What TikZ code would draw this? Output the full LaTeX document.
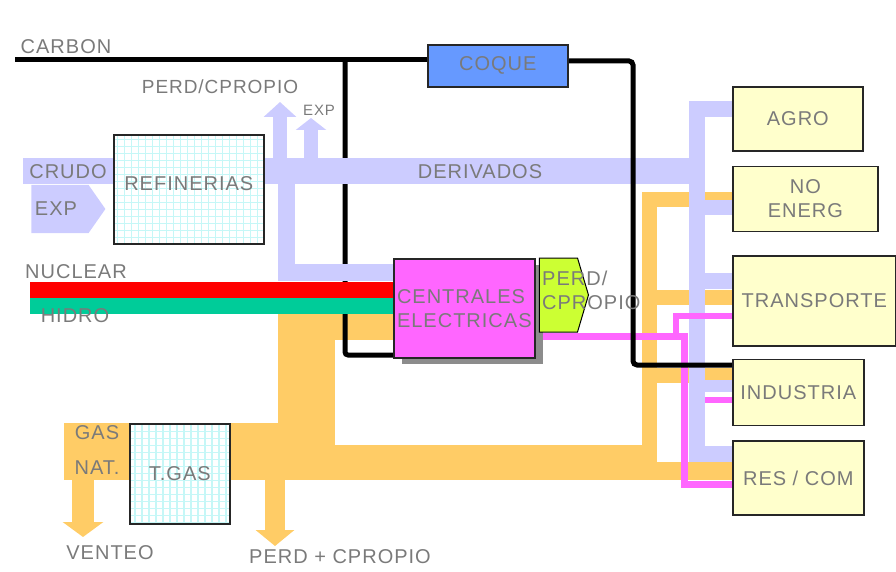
\documentclass[tikz,border=0pt]{standalone}
\usepackage{fontspec}
\setmainfont{Liberation Sans}[LetterSpace=5]
\usetikzlibrary{arrows.meta,positioning,shapes.symbols,shadows,backgrounds}
\definecolor{lila}{HTML}{CCCCFF}
\definecolor{gasn}{HTML}{FFCC66}
\definecolor{rosa}{HTML}{FF66FF}
\definecolor{azul}{HTML}{6699FF}
\definecolor{lima}{HTML}{CCFF33}
\definecolor{crema}{HTML}{FFFFCC}
\definecolor{rojo}{HTML}{FF0000}
\definecolor{verde}{HTML}{00CC99}
\definecolor{gris}{HTML}{7A7A7A}
\definecolor{celeste}{HTML}{C6F7F7}

\begin{document}
\begin{tikzpicture}[x=1pt,y=-1pt,font=\fontsize{20}{24}\selectfont,
every node/.style={text=gris,inner sep=0},
box/.style={draw=black!85,line width=1.6,align=center},
sector/.style={box,fill=crema,anchor=north west},
grid box/.style={box,fill=white,anchor=north west,path picture={\draw[celeste,line width=1.4](path picture bounding box.south west) grid[step=7pt](path picture bounding box.north east);}},
lila band/.style={draw=lila,line width=#1},
gas band/.style={draw=gasn,line width=#1}]
\useasboundingbox (0,0) rectangle (896,572);
\coordinate (crudo) at (23,171);
\coordinate (cj) at (345,60);
\coordinate (gasin) at (64,451.5);
\node[grid box,minimum width=150,minimum height=109] (refin) at (113,134) {\raisebox{12pt}{REFINERIAS}};
\node[grid box,minimum size=100] (tgas) at (129,423) {T.GAS};
\node[box,fill=azul,minimum width=140,minimum height=42,anchor=north west] (coque) at (427,44) {COQUE};
\node[box,fill=rosa,minimum width=141,minimum height=99,anchor=north west,align=left,
  drop shadow={shadow xshift=8pt,shadow yshift=-6pt,fill=black!45,opacity=1}] (centr) at (393,258) {CENTRALES\\ELECTRICAS};
\node[signal,signal to=east,signal pointer angle=147,fill=lima,draw=black,line width=1,minimum width=49,minimum height=74] (perdce) at (558.5,295) {};
\node[anchor=west,align=left] (perdcetxt) at (542,290) {PERD/\\CPROPIO};
\node[signal,signal to=east,signal pointer angle=110,fill=lila,minimum width=74,minimum height=48] (expc) at (60,209) {\hspace*{-8pt}EXP};
\node[sector,minimum width=130,minimum height=64] (agro) at (732,86) {\raisebox{-7pt}{AGRO}};
\node[sector,minimum width=145,minimum height=65,below=14pt of agro.south west,anchor=north west] (noen) {NO\\ENERG};
\node[sector,minimum width=163,minimum height=90,below=23pt of noen.south west,anchor=north west] (transp) {TRANSPORTE};
\node[sector,minimum width=131,minimum height=66,below=12pt of transp.south west,anchor=north west] (indus) {INDUSTRIA};
\node[sector,minimum width=131,minimum height=74,below=14pt of indus.south west,anchor=north west] (rescom) {RES / COM};
\node (carbontxt) at (66,47) {CARBON};
\node[font=\fontsize{19}{22}\selectfont] (perdtop) at (220,87) {PERD/CPROPIO};
\node[font=\fontsize{15}{18}\selectfont] (exptop) at (319,110) {EXP};
\node (crudotxt) at (68,172) {CRUDO};
\node (dertxt) at (480,172) {DERIVADOS};
\node (nuctxt) at (76,272) {NUCLEAR};
\node (hidtxt) at (75,316) {HIDRO};
\node (gastxt) at (97,433) {GAS};
\node (nattxt) at (97,468) {NAT.};
\node (venttxt) at (110,553) {VENTEO};
\node (perdbot) at (340,557) {PERD + CPROPIO};
\begin{scope}[on background layer]
\draw[gas band=57] (gasin) -- (tgas.west |- gasin);
\draw[gas band=57] (tgas.east |- gasin) -- (335,451.5);
\draw[gas band=57] (306.5,480) -- (306.5,314);
\draw[gas band=26] (278,327) -- (centr.west |- 0,327);
\draw[gas band=35] (335,462.5) -- (657,462.5);
\draw[gas band=18] (649.5,471) -- (rescom.west |- 0,471);
\draw[gas band=15] (noen.west |- 0,199) -| (649.5,480);
\draw[gas band=15] (649.5,297.5) -- (transp.west |- 0,297.5);
\draw[gas band=15] (649.5,375.5) -- (indus.west |- 0,375.5);
\draw[gas band=22,-{Triangle[length=15pt,width=40pt]}] (83,478) -- (83,537);
\draw[gas band=20,-{Triangle[length=16pt,width=38pt]}] (275,478) -- (275,546);
\draw[black,line width=5,rounded corners=3] (cj) -- (345,355) -- (centr.west |- 0,355);
\draw[lila band=26] (crudo) -- (refin.west |- crudo);
\draw[lila band=26] (refin.east |- crudo) -- (697,171);
\draw[lila band=16] (agro.west |- 0,109) -| (697,454) -- (rescom.west |- 0,454);
\draw[lila band=15] (697,207.5) -- (noen.west |- 0,207.5);
\draw[lila band=16] (697,281) -- (transp.west |- 0,281);
\draw[lila band=12] (697,386) -- (indus.west |- 0,386);
\draw[lila band=17] (286,171) |- (centr.west |- 0,272.5);
\draw[lila band=14,-{Triangle[length=15pt,width=32pt]}] (280,171) -- (280,102);
\draw[lila band=14,-{Triangle[length=12pt,width=30pt]}] (311,171) -- (311,118);
\draw[rojo,line width=16] (30,290) -- (centr.west |- 0,290);
\draw[verde,line width=16] (30,306) -- (centr.west |- 0,306);
\draw[rosa,line width=7] (centr.east |- 0,336) -- (684,336) |- (rescom.west |- 0,484);
\draw[rosa,line width=6] (676,336) |- (transp.west |- 0,316);
\draw[rosa,line width=6] (705,400) -- (indus.west |- 0,400);
\draw[black,line width=5] (15,60) -- (coque.west |- cj);
\draw[black,line width=5,rounded corners=4] (coque.east |- 0,61) -- (633,61) -- (633,365) -- (indus.west |- 0,365);
\end{scope}
\end{tikzpicture}
\end{document}
